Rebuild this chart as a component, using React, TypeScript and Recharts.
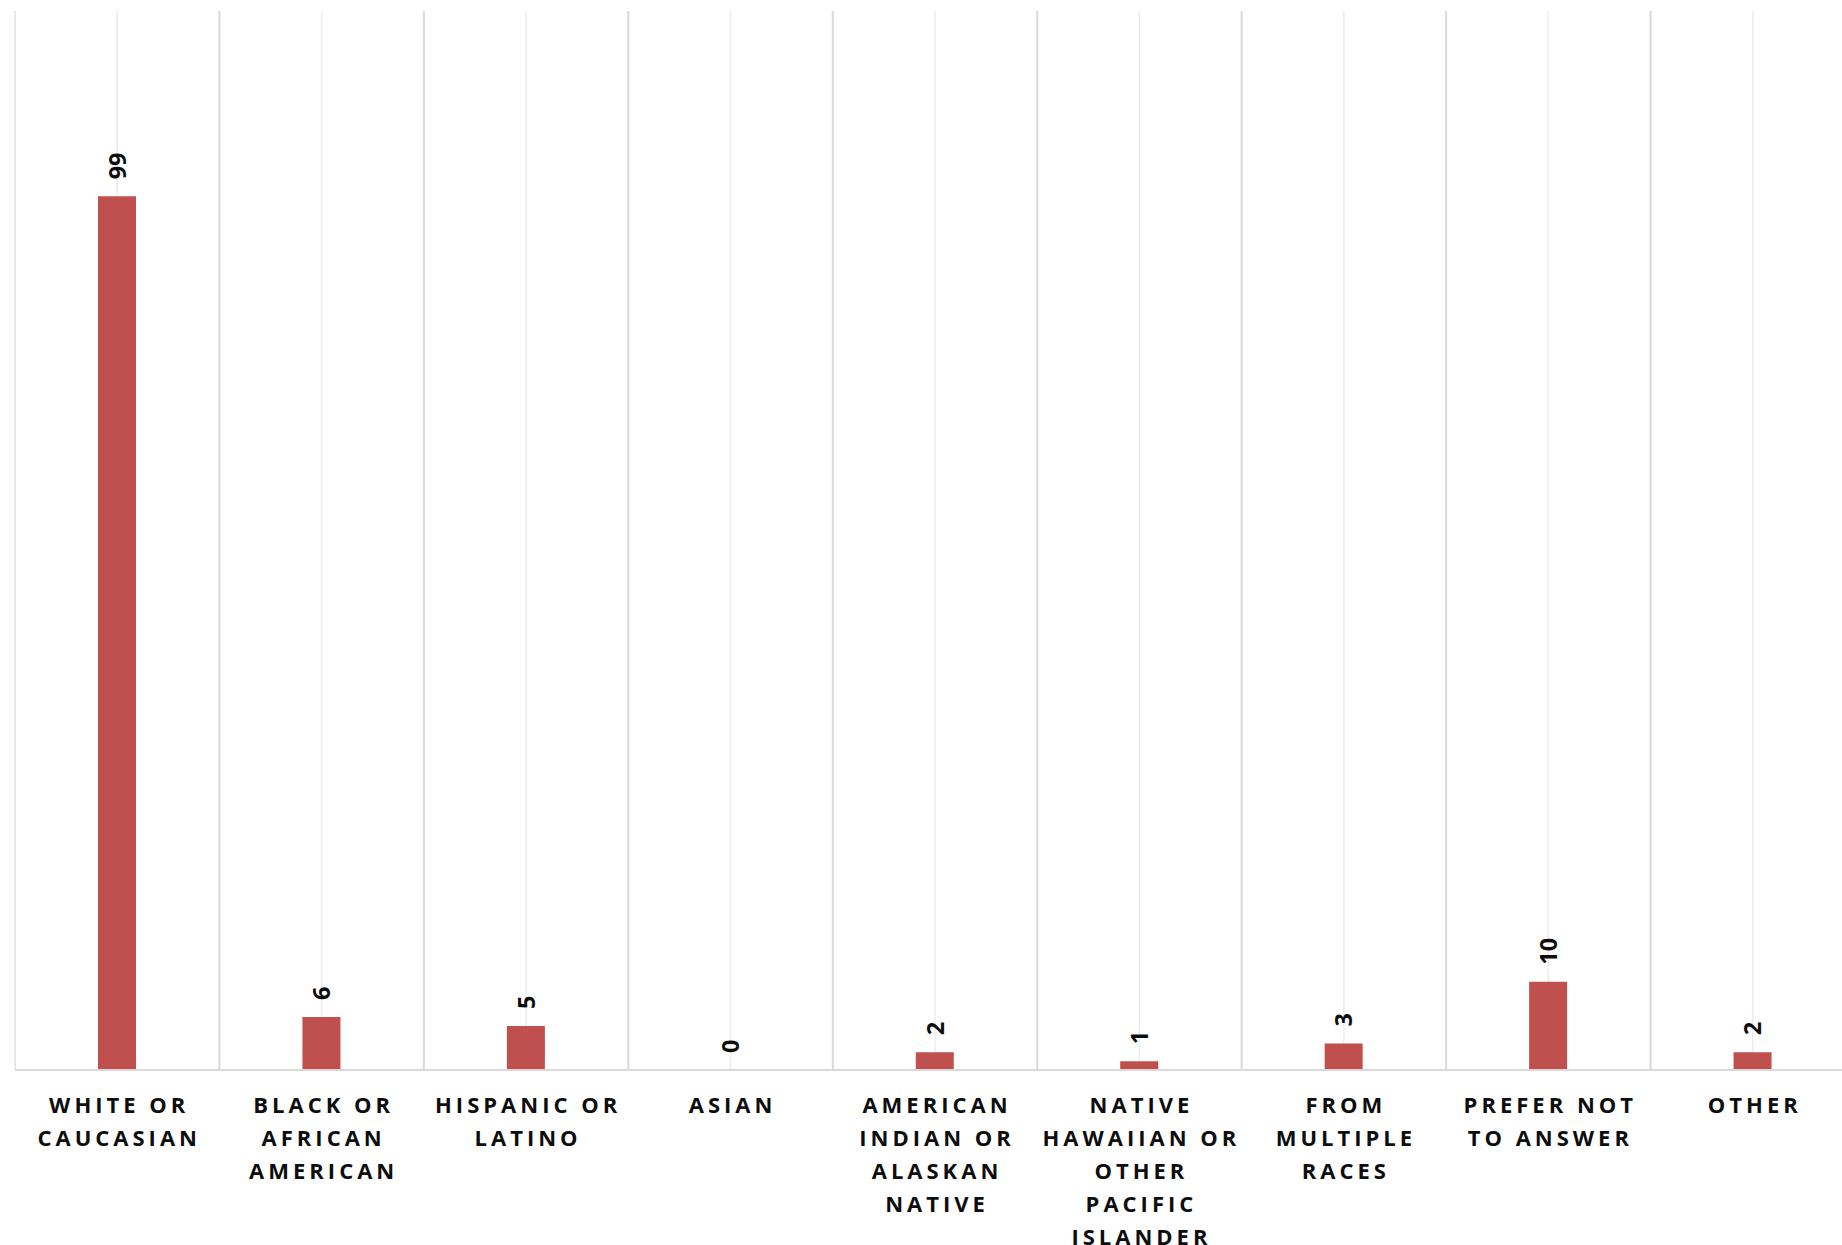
import React from 'react';
import {
  ComposedChart,
  Bar,
  Line,
  XAxis,
  YAxis,
  CartesianGrid,
  LabelList,
} from 'recharts';

// categories, with the line breaks the chart uses under each bar
const categories = [
  'WHITE OR\nCAUCASIAN',
  'BLACK OR\nAFRICAN\nAMERICAN',
  'HISPANIC OR\nLATINO',
  'ASIAN',
  'AMERICAN\nINDIAN OR\nALASKAN\nNATIVE',
  'NATIVE\nHAWAIIAN OR\nOTHER\nPACIFIC\nISLANDER',
  'FROM\nMULTIPLE\nRACES',
  'PREFER NOT\nTO ANSWER',
  'OTHER',
];

const counts = [99, 6, 5, 0, 2, 1, 3, 10, 2];

const data = categories.map((name, i) => ({ name, count: counts[i] }));

const FONT = "'Open Sans', 'DejaVu Sans', sans-serif";
const LETTER_SPACING = 4;

// separator lines sit on the edges of each category band
function bandEdges({ offset }: any) {
  const step = offset.width / categories.length;
  const edges = categories.map((_, i) => offset.left + i * step);
  edges.push(offset.left + offset.width);
  return edges;
}

function CategoryTick(props: any) {
  const { x, y, payload } = props;
  const lines = String(payload.value).split('\n');
  return (
    <text
      x={x}
      y={y}
      textAnchor="middle"
      fontFamily={FONT}
      fontSize={22}
      fontWeight={700}
      fill="#0d0d0d"
      letterSpacing={LETTER_SPACING}
    >
      {lines.map((line, i) => (
        <tspan key={i} x={x + LETTER_SPACING / 2} y={y + 43 + i * 33}>
          {line}
        </tspan>
      ))}
    </text>
  );
}

// value labels sit on the (invisible) line points, so the 0 still gets one
function ValueLabel(props: any) {
  const { x, y, value } = props;
  const cx = x + 8.5;
  const cy = y - 17;
  return (
    <text
      transform={`translate(${cx}, ${cy}) rotate(-90)`}
      textAnchor="start"
      fontFamily={FONT}
      fontSize={23.5}
      fontWeight={700}
      fill="#0d0d0d"
    >
      {value}
    </text>
  );
}

export default function App() {
  return (
    <div
      style={{
        position: 'absolute',
        left: 0,
        top: 0,
        width: 1842,
        height: 1245,
        overflow: 'hidden',
        background: '#fff',
      }}
    >
      <ComposedChart
        width={1870}
        height={1245}
        data={data}
        margin={{ top: 11, right: 15, bottom: 0, left: 15 }}
      >
        <CartesianGrid
          horizontal={false}
          stroke="#d9d9d9"
          strokeWidth={2}
          verticalCoordinatesGenerator={bandEdges}
        />
        <CartesianGrid horizontal={false} stroke="#ececec" strokeWidth={1.5} />
        <XAxis
          dataKey="name"
          interval={0}
          height={175}
          tickLine={false}
          tickSize={0}
          tickMargin={0}
          axisLine={{ stroke: '#d9d9d9', strokeWidth: 2 }}
          tick={<CategoryTick />}
        />
        <YAxis domain={[0, 120]} hide />
        <Bar
          dataKey="count"
          fill="#c0504d"
          barSize={38}
          isAnimationActive={false}
        />
        <Line
          dataKey="count"
          stroke="none"
          dot={false}
          activeDot={false}
          isAnimationActive={false}
        >
          <LabelList dataKey="count" content={<ValueLabel />} />
        </Line>
      </ComposedChart>
    </div>
  );
}
